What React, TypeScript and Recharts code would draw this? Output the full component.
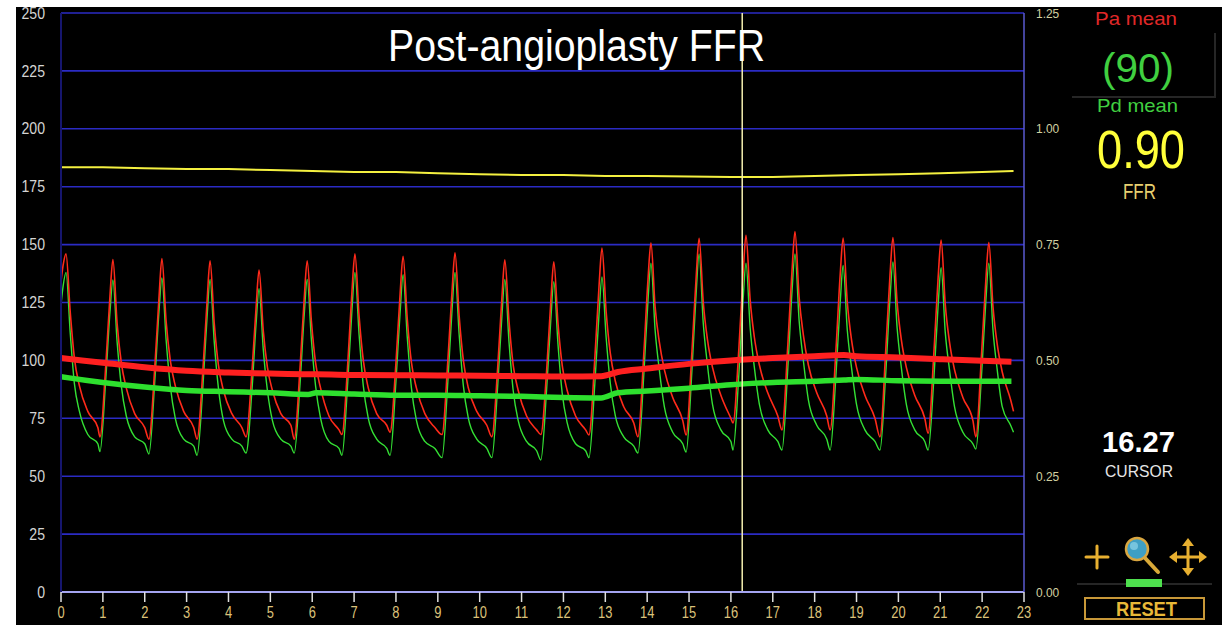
import React from "react"
import { LineChart, Line, XAxis, YAxis, CartesianGrid, ReferenceLine } from "recharts"

// axis ticks
const timeTicks = [0, 1, 2, 3, 4, 5, 6, 7, 8, 9, 10, 11, 12, 13, 14, 15, 16, 17, 18, 19, 20, 21, 22, 23]
const pressureTicks = [0, 25, 50, 75, 100, 125, 150, 175, 200, 225, 250]
const ratioTicks = [0, 0.25, 0.5, 0.75, 1, 1.25]

// pulsatile traces, one row per heart beat (seconds / mmHg)
const beatTimes = [
  [0, 0.05, 0.12, 0.22, 0.32, 0.44, 0.64, 0.88],
  [0.93, 1.07, 1.17, 1.24, 1.34, 1.44, 1.56, 1.76, 2.0],
  [2.1, 2.24, 2.34, 2.41, 2.51, 2.61, 2.73, 2.93, 3.17],
  [3.25, 3.39, 3.49, 3.56, 3.66, 3.76, 3.88, 4.08, 4.32],
  [4.42, 4.56, 4.66, 4.73, 4.83, 4.93, 5.05, 5.25, 5.49],
  [5.57, 5.71, 5.81, 5.88, 5.98, 6.08, 6.2, 6.4, 6.64],
  [6.71, 6.85, 6.95, 7.02, 7.12, 7.22, 7.34, 7.54, 7.78],
  [7.86, 8.0, 8.1, 8.17, 8.27, 8.37, 8.49, 8.69, 8.93],
  [9.1, 9.24, 9.34, 9.41, 9.51, 9.61, 9.73, 9.93, 10.17],
  [10.29, 10.43, 10.53, 10.6, 10.7, 10.8, 10.92, 11.12, 11.36],
  [11.46, 11.6, 11.7, 11.77, 11.87, 11.97, 12.09, 12.29, 12.53],
  [12.61, 12.75, 12.85, 12.92, 13.02, 13.12, 13.24, 13.44, 13.68],
  [13.78, 13.92, 14.02, 14.09, 14.19, 14.29, 14.41, 14.61, 14.85],
  [14.93, 15.07, 15.17, 15.24, 15.34, 15.44, 15.56, 15.76, 16.0],
  [16.05, 16.19, 16.29, 16.36, 16.46, 16.56, 16.68, 16.88, 17.12],
  [17.22, 17.36, 17.46, 17.53, 17.63, 17.73, 17.85, 18.05, 18.29],
  [18.37, 18.51, 18.61, 18.68, 18.78, 18.88, 19.0, 19.2, 19.44],
  [19.56, 19.7, 19.8, 19.87, 19.97, 20.07, 20.19, 20.39, 20.63],
  [20.71, 20.85, 20.95, 21.02, 21.12, 21.22, 21.34, 21.54, 21.78],
  [21.85, 21.99, 22.09, 22.16, 22.26, 22.36, 22.48, 22.68, 22.75],
]

const paBeats = [
  [134, 141, 146, 121, 101, 89, 78, 71],
  [67, 98, 128, 143.5, 116, 99, 88, 77, 71],
  [66, 97, 127, 144, 117, 100, 89, 78, 71],
  [66, 96, 126, 143, 116, 98, 87, 77, 71],
  [67, 95, 123, 139, 113, 97, 87, 77, 72],
  [66, 97, 127, 143, 117, 99, 88, 76, 70],
  [68, 99, 130, 146, 119, 100, 88, 77, 72],
  [69, 99, 129, 145, 118, 99, 88, 77, 71],
  [68, 100, 130, 146.5, 119, 100, 88, 78, 72],
  [67, 97, 127, 143.4, 117, 98, 87, 76, 70],
  [68, 96, 126, 142.6, 116, 98, 87, 76, 70],
  [67.8, 101, 132, 148.5, 121, 103, 91, 80, 73],
  [67, 103, 135, 150.8, 123, 108, 96, 84, 74],
  [67.8, 104, 136, 152.7, 125, 109, 97, 85, 75],
  [73, 105, 137, 154, 126, 110, 98, 86, 76],
  [70, 107, 139, 155.6, 127, 111, 98, 86, 76],
  [70, 105, 137, 152.8, 125, 109, 97, 85, 75],
  [67, 105, 137, 153, 125, 109, 97, 85, 75],
  [68.6, 104, 136, 152, 124, 108, 96, 84, 74],
  [67, 104, 135, 151, 123, 107, 95, 83, 78],
]

const pdBeats = [
  [124, 132, 138, 112, 90, 78, 68, 64],
  [60.6, 92, 121, 134.7, 108, 89, 76, 67, 64],
  [59.6, 91, 121, 135.6, 109, 89, 75, 66, 63],
  [59, 89, 119, 135, 108, 88, 74, 66, 63],
  [60, 87, 116, 131, 105, 87, 74, 66, 63],
  [60, 90, 120, 135, 109, 89, 75, 65, 62],
  [59, 91, 122, 138, 111, 89, 75, 66, 62],
  [59, 91, 121, 137, 110, 88, 74, 65, 62],
  [58, 91, 122, 138, 111, 89, 75, 66, 62],
  [58, 89, 119, 135, 108, 87, 74, 65, 61],
  [57, 88, 118, 134, 107, 86, 73, 64, 61],
  [58, 90, 120, 136, 110, 90, 76, 67, 63],
  [60, 94, 126, 142, 113, 96, 80, 69, 64],
  [60.4, 96, 129, 146, 116, 98, 81, 70, 65],
  [61.3, 94, 126, 142, 114, 97, 81, 70, 65],
  [61.3, 97, 130, 146, 117, 100, 83, 72, 66],
  [61.3, 94, 125, 141, 113, 97, 81, 70, 65],
  [61.3, 95, 127, 142.5, 114, 97, 81, 70, 65],
  [61.3, 93, 124, 140, 112, 96, 80, 69, 64],
  [61.7, 95, 126, 142, 113, 96, 80, 72, 69],
]

// running means
const meanTimes = [0, 1, 2, 3, 4, 5, 5.9, 6.1, 7, 8, 9, 10, 11, 12, 12.9, 13.3, 14, 15, 16, 17, 18, 18.7, 19, 20, 21, 22, 22.7]
const paMean = [101, 99, 97, 95.5, 94.8, 94.3, 94, 94, 93.7, 93.6, 93.5, 93.4, 93.2, 93, 93.2, 95, 96.5, 98.5, 100, 101, 101.8, 102.3, 101.8, 101.3, 100.5, 99.8, 99.4]
const pdMean = [93, 90.5, 88.5, 87, 86.5, 86, 85.3, 86, 85.5, 85, 85, 84.7, 84.5, 84, 83.8, 86, 86.8, 88, 89.5, 90.5, 91, 91.5, 91.8, 91.2, 91, 91, 91]

// Pd/Pa ratio (right axis)
const ratioTimes = [0, 1, 2, 3, 4, 5, 6, 7, 8, 9, 10, 11, 12, 13, 14, 15, 16, 17, 18, 19, 20, 21, 22, 22.75]
const ratioValues = [0.917, 0.917, 0.915, 0.913, 0.913, 0.911, 0.909, 0.907, 0.907, 0.904, 0.902, 0.9, 0.9, 0.898, 0.898, 0.897, 0.896, 0.896, 0.898, 0.9, 0.902, 0.904, 0.907, 0.909]

const cursorTime = 16.27

const traceData = beatTimes.flatMap((row, i) =>
  row.map((t, j) => ({ t, pa: paBeats[i][j], pd: pdBeats[i][j] }))
)
const meanData = meanTimes.map((t, i) => ({ t, pa: paMean[i], pd: pdMean[i] }))
const ratioData = ratioTimes.map((t, i) => ({ t, r: ratioValues[i] }))

const FONT = "'Liberation Sans', Arial, sans-serif"

const LeftTick = ({ x, y, payload }: any) => (
  <text
    transform={`translate(${x},${y}) scale(0.88,1)`}
    textAnchor="end"
    dy="0.35em"
    fill="#d4d4d4"
    fontSize={16}
    fontFamily={FONT}
  >
    {payload.value}
  </text>
)

const RightTick = ({ x, y, payload }: any) => (
  <text
    transform={`translate(${x},${y}) scale(0.92,1)`}
    textAnchor="start"
    dy="0.35em"
    fill="#d2d0a0"
    fontSize={13}
    fontFamily={FONT}
  >
    {Number(payload.value).toFixed(2)}
  </text>
)

const BottomTick = ({ x, y, payload }: any) => (
  <text
    transform={`translate(${x},${y}) scale(0.76,1)`}
    textAnchor="middle"
    dy="0.71em"
    fill="#dcc27a"
    fontSize={17}
    fontFamily={FONT}
  >
    {payload.value}
  </text>
)

function Overlay() {
  const gold = "#e8b030"
  return (
    <svg width={1222} height={625} style={{ position: "absolute", left: 0, top: 0, pointerEvents: "none" }}>
      <text x={388} y={61} fill="#ffffff" fontSize={44} fontFamily={FONT} textLength={377} lengthAdjust="spacingAndGlyphs">
        Post-angioplasty FFR
      </text>

      <path d="M1072,97 H1215 V33" fill="none" stroke="#262626" strokeWidth={2} />
      <text x={1095} y={25} fill="#e02828" fontSize={19} fontFamily={FONT} textLength={82} lengthAdjust="spacingAndGlyphs">Pa mean</text>
      <text x={1102} y={82} fill="#40d040" fontSize={40} fontFamily={FONT} textLength={72} lengthAdjust="spacingAndGlyphs">(90)</text>
      <text x={1097} y={112} fill="#40d040" fontSize={19} fontFamily={FONT} textLength={81} lengthAdjust="spacingAndGlyphs">Pd mean</text>
      <text x={1097} y={168} fill="#ffff3a" fontSize={53} fontFamily={FONT} textLength={88} lengthAdjust="spacingAndGlyphs">0.90</text>
      <text x={1123} y={199} fill="#e8d070" fontSize={22} fontFamily={FONT} textLength={33} lengthAdjust="spacingAndGlyphs">FFR</text>

      <text x={1102} y={452} fill="#ffffff" fontSize={30} fontWeight="bold" fontFamily={FONT} textLength={73} lengthAdjust="spacingAndGlyphs">16.27</text>
      <text x={1105} y={477} fill="#e6e6e6" fontSize={17} fontFamily={FONT} textLength={68} lengthAdjust="spacingAndGlyphs">CURSOR</text>

      {/* tool icons */}
      <g stroke={gold} strokeWidth={3} strokeLinecap="round">
        <line x1={1086} y1={557} x2={1108} y2={557} />
        <line x1={1097} y1={546} x2={1097} y2={568} />
      </g>
      <line x1={1145} y1={558} x2={1158} y2={572} stroke="#d8a838" strokeWidth={4} strokeLinecap="round" />
      <circle cx={1137} cy={549} r={11} fill="#3f9fc4" stroke="#d9a640" strokeWidth={2.5} />
      <circle cx={1134} cy={546} r={4} fill="#8fd4ea" opacity={0.7} />
      <g stroke={gold} strokeWidth={3}>
        <line x1={1173} y1={557} x2={1203} y2={557} />
        <line x1={1188} y1={542} x2={1188} y2={572} />
      </g>
      <g fill={gold}>
        <path d="M1169,557 L1177,551 L1177,563 Z" />
        <path d="M1207,557 L1199,551 L1199,563 Z" />
        <path d="M1188,538 L1182,546 L1194,546 Z" />
        <path d="M1188,576 L1182,568 L1194,568 Z" />
      </g>
      <line x1={1077} y1={584} x2={1212} y2={584} stroke="#262626" strokeWidth={2} />
      <rect x={1126} y={579} width={36} height={8} fill="#4ee04e" />

      <rect x={1085} y={598} width={119} height={21} fill="none" stroke="#c89838" strokeWidth={2} />
      <text x={1116} y={616} fill="#e8b838" fontSize={20} fontWeight="bold" fontFamily={FONT} textLength={61} lengthAdjust="spacingAndGlyphs">RESET</text>
    </svg>
  )
}

export default function App() {
  return (
    <div style={{ position: "absolute", left: 0, top: 0, width: 1222, height: 625, background: "#ffffff", overflow: "hidden" }}>
      <div style={{ position: "absolute", left: 16, top: 7, right: 0, bottom: 0, background: "#000000" }} />
      <div style={{ position: "absolute", left: 0, top: 0 }}>
        <LineChart width={1222} height={625} margin={{ top: 13, right: 138, bottom: 0, left: 0 }}>
          <CartesianGrid yAxisId="p" vertical={false} stroke="#2b2bc4" strokeWidth={1.6} />
          <XAxis
            dataKey="t"
            type="number"
            domain={[0, 23]}
            ticks={timeTicks}
            allowDataOverflow
            height={33}
            axisLine={{ stroke: "#a4a4f0", strokeWidth: 2 }}
            tickLine={{ stroke: "#e0e0e0", strokeWidth: 1.5 }}
            tickSize={10}
            tickMargin={4}
            tick={<BottomTick />}
            interval={0}
          />
          <YAxis
            yAxisId="p"
            orientation="left"
            width={61}
            domain={[0, 250]}
            ticks={pressureTicks}
            axisLine={{ stroke: "#16166e", strokeWidth: 2 }}
            tickLine={false}
            tickSize={0}
            tickMargin={16}
            tick={<LeftTick />}
            interval={0}
          />
          <YAxis
            yAxisId="r"
            orientation="right"
            width={60}
            domain={[0, 1.25]}
            ticks={ratioTicks}
            axisLine={{ stroke: "#5a5ad0", strokeWidth: 1.5 }}
            tickLine={false}
            tickSize={0}
            tickMargin={12}
            tick={<RightTick />}
            interval={0}
          />
          <Line data={traceData} yAxisId="p" dataKey="pd" type="monotone" stroke="#34e034" strokeWidth={1.4} dot={false} isAnimationActive={false} />
          <Line data={traceData} yAxisId="p" dataKey="pa" type="monotone" stroke="#ff2a1a" strokeWidth={1.6} dot={false} isAnimationActive={false} />
          <Line data={meanData} yAxisId="p" dataKey="pa" type="monotone" stroke="#ff2020" strokeWidth={6} dot={false} isAnimationActive={false} />
          <Line data={meanData} yAxisId="p" dataKey="pd" type="monotone" stroke="#2ee02e" strokeWidth={5.5} dot={false} isAnimationActive={false} />
          <Line data={ratioData} yAxisId="r" dataKey="r" type="linear" stroke="#f4f040" strokeWidth={2} dot={false} isAnimationActive={false} />
          <ReferenceLine x={cursorTime} yAxisId="p" stroke="#f4f0b0" strokeWidth={1.5} />
        </LineChart>
      </div>
      <Overlay />
    </div>
  )
}
